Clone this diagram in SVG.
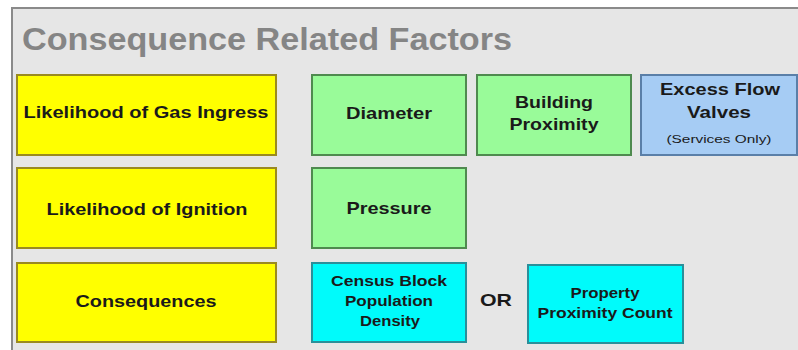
<svg xmlns="http://www.w3.org/2000/svg" width="798" height="350" viewBox="0 0 798 350">
<style>
.t{font-family:"Liberation Sans",Arial,sans-serif;font-weight:bold;font-size:17px;fill:#1a1a1a;text-anchor:middle}
.s{font-size:15px}
.y{fill:#ffff00;stroke:#9a8a20;stroke-width:2}
.g{fill:#99fb99;stroke:#4f8a4f;stroke-width:2}
.b{fill:#a6ccf4;stroke:#5a7fa8;stroke-width:2}
.c{fill:#00fbfb;stroke:#2a8f9a;stroke-width:2}
</style>
<rect x="0" y="0" width="798" height="350" fill="#ffffff"/>
<rect x="12" y="8" width="790" height="346" fill="#e6e6e6" stroke="#8a8a8a" stroke-width="2"/>
<text x="22" y="50" textLength="490" lengthAdjust="spacingAndGlyphs" style="font-family:'Liberation Sans',Arial,sans-serif;font-weight:bold;font-size:32px;fill:#858585">Consequence Related Factors</text>
<g id="connectors"></g>
<g id="gas"><rect class="y" x="17" y="75" width="259" height="80"/><text class="t" x="146" y="118" textLength="245" lengthAdjust="spacingAndGlyphs">Likelihood of Gas Ingress</text></g>
<g id="ignition"><rect class="y" x="17" y="168" width="259" height="80"/><text class="t" x="147" y="215" textLength="201" lengthAdjust="spacingAndGlyphs">Likelihood of Ignition</text></g>
<g id="consequences"><rect class="y" x="17" y="263" width="259" height="79"/><text class="t" x="146" y="307" textLength="141" lengthAdjust="spacingAndGlyphs">Consequences</text></g>
<g id="diameter"><rect class="g" x="312" y="75" width="154" height="80"/><text class="t" x="389" y="119" textLength="86" lengthAdjust="spacingAndGlyphs">Diameter</text></g>
<g id="building"><rect class="g" x="477" y="75" width="154" height="80"/><text class="t" x="554" y="108" textLength="78" lengthAdjust="spacingAndGlyphs">Building</text><text class="t" x="554" y="130" textLength="89" lengthAdjust="spacingAndGlyphs">Proximity</text></g>
<g id="efv"><rect class="b" x="641" y="75" width="156" height="80"/><text class="t" x="720" y="95" textLength="120" lengthAdjust="spacingAndGlyphs">Excess Flow</text><text class="t" x="719" y="118" textLength="64" lengthAdjust="spacingAndGlyphs">Valves</text><text class="t" x="719" y="143" textLength="105" lengthAdjust="spacingAndGlyphs" style="font-size:10px;font-weight:normal">(Services Only)</text></g>
<g id="pressure"><rect class="g" x="312" y="168" width="154" height="80"/><text class="t" x="389" y="214" textLength="85" lengthAdjust="spacingAndGlyphs">Pressure</text></g>
<g id="census"><rect class="c" x="312" y="263" width="154" height="79"/><text class="t s" x="389" y="286" textLength="116" lengthAdjust="spacingAndGlyphs">Census Block</text><text class="t s" x="389" y="306" textLength="88" lengthAdjust="spacingAndGlyphs">Population</text><text class="t s" x="390" y="326" textLength="60" lengthAdjust="spacingAndGlyphs">Density</text></g>
<g id="or"><text class="t" x="496" y="306" textLength="32" lengthAdjust="spacingAndGlyphs">OR</text></g>
<g id="property"><rect class="c" x="528" y="265" width="155" height="78"/><text class="t s" x="605" y="298" textLength="69" lengthAdjust="spacingAndGlyphs">Property</text><text class="t s" x="605" y="318" textLength="135" lengthAdjust="spacingAndGlyphs">Proximity Count</text></g>
</svg>
